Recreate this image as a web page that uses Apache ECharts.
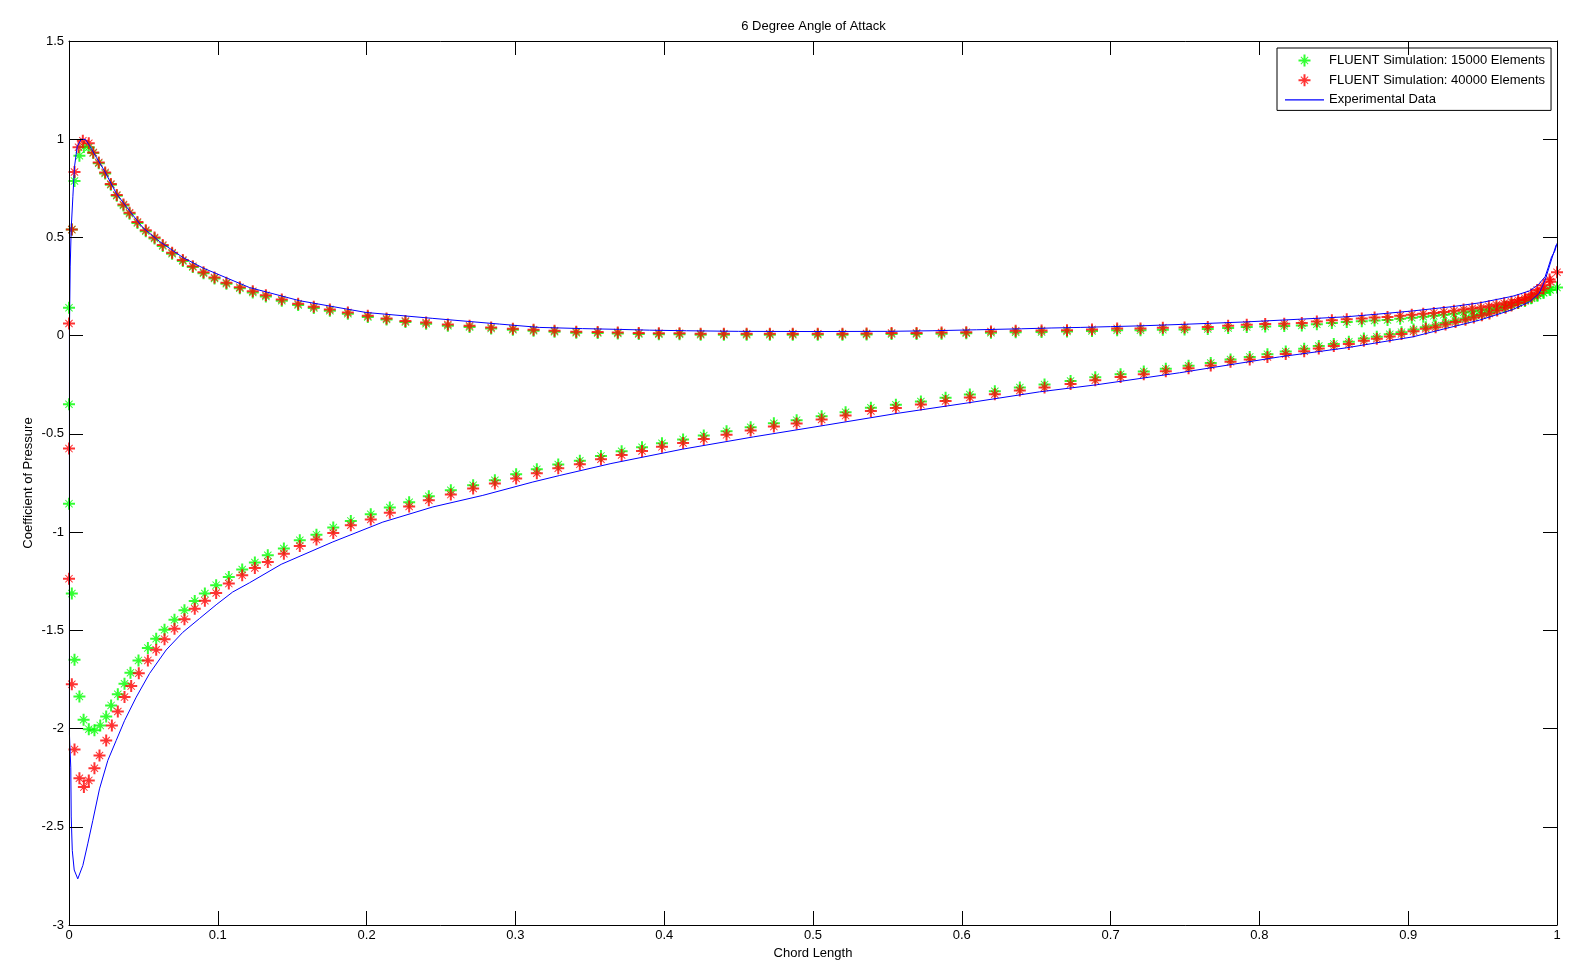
<!DOCTYPE html>
<html>
<head>
<meta charset="utf-8">
<script src="https://cdn.jsdelivr.net/npm/echarts@6/dist/echarts.min.js"></script>
<style>
html,body{margin:0;padding:0;background:#fff;}
#chart{width:1580px;height:971px;}
</style>
</head>
<body>
<div id="chart"></div>
<script>
// ---- Data ----
const titleText = '6 Degree Angle of Attack';
const xName = 'Chord Length';
const yName = 'Coefficient of Pressure';
const seriesNames = ['FLUENT Simulation: 15000 Elements', 'FLUENT Simulation: 40000 Elements', 'Experimental Data'];

// FLUENT 15000 elements, pressure side (positive Cp)
const green15kUpper = [[0.0000,0.142],[0.0019,0.540],[0.0037,0.787],[0.0070,0.916],[0.0100,0.960],[0.0133,0.959],[0.0163,0.930],[0.0200,0.878],[0.0243,0.826],[0.0281,0.768],[0.0321,0.712],[0.0366,0.663],[0.0407,0.621],[0.0460,0.573],[0.0516,0.531],[0.0575,0.495],[0.0630,0.456],[0.0693,0.417],[0.0765,0.380],[0.0832,0.349],[0.0904,0.318],[0.0978,0.291],[0.1058,0.264],[0.1148,0.241],[0.1235,0.220],[0.1323,0.200],[0.1430,0.178],[0.1540,0.156],[0.1645,0.141],[0.1753,0.127],[0.1874,0.112],[0.2008,0.095],[0.2134,0.082],[0.2261,0.069],[0.2400,0.061],[0.2546,0.051],[0.2692,0.044],[0.2837,0.036],[0.2983,0.030],[0.3122,0.025],[0.3263,0.020],[0.3409,0.015],[0.3553,0.014],[0.3688,0.011],[0.3829,0.009],[0.3964,0.007],[0.4103,0.007],[0.4245,0.005],[0.4401,0.005],[0.4554,0.005],[0.4710,0.005],[0.4864,0.005],[0.5032,0.005],[0.5198,0.005],[0.5360,0.006],[0.5528,0.008],[0.5696,0.009],[0.5864,0.010],[0.6030,0.012],[0.6196,0.015],[0.6362,0.018],[0.6536,0.019],[0.6707,0.021],[0.6875,0.024],[0.7044,0.028],[0.7201,0.028],[0.7351,0.030],[0.7497,0.032],[0.7653,0.034],[0.7790,0.039],[0.7915,0.044],[0.8039,0.047],[0.8167,0.049],[0.8285,0.052],[0.8386,0.058],[0.8487,0.064],[0.8587,0.069],[0.8688,0.073],[0.8774,0.077],[0.8861,0.080],[0.8946,0.086],[0.9024,0.091],[0.9101,0.096],[0.9172,0.101],[0.9239,0.106],[0.9307,0.112],[0.9372,0.118],[0.9430,0.123],[0.9488,0.129],[0.9542,0.135],[0.9593,0.142],[0.9645,0.150],[0.9694,0.158],[0.9739,0.166],[0.9784,0.176],[0.9826,0.190],[0.9867,0.205],[0.9909,0.220],[0.9950,0.235],[1.0000,0.245]];
// FLUENT 15000 elements, suction side (negative Cp)
const green15kLower = [[0.0000,-0.349],[0.0000,-0.855],[0.0019,-1.313],[0.0037,-1.650],[0.0070,-1.837],[0.0098,-1.955],[0.0133,-2.003],[0.0171,-2.008],[0.0210,-1.984],[0.0250,-1.938],[0.0283,-1.882],[0.0328,-1.826],[0.0373,-1.772],[0.0413,-1.716],[0.0467,-1.653],[0.0530,-1.590],[0.0586,-1.543],[0.0642,-1.497],[0.0709,-1.446],[0.0776,-1.398],[0.0845,-1.351],[0.0913,-1.313],[0.0989,-1.270],[0.1074,-1.229],[0.1164,-1.190],[0.1249,-1.155],[0.1336,-1.118],[0.1444,-1.084],[0.1551,-1.042],[0.1663,-1.013],[0.1776,-0.977],[0.1894,-0.943],[0.2028,-0.909],[0.2156,-0.875],[0.2286,-0.848],[0.2418,-0.818],[0.2566,-0.787],[0.2716,-0.762],[0.2862,-0.736],[0.3005,-0.706],[0.3144,-0.680],[0.3288,-0.656],[0.3433,-0.637],[0.3575,-0.612],[0.3714,-0.589],[0.3851,-0.568],[0.3985,-0.548],[0.4127,-0.528],[0.4266,-0.508],[0.4419,-0.487],[0.4581,-0.466],[0.4737,-0.446],[0.4890,-0.430],[0.5058,-0.410],[0.5219,-0.390],[0.5389,-0.367],[0.5557,-0.352],[0.5725,-0.335],[0.5891,-0.316],[0.6054,-0.300],[0.6222,-0.283],[0.6390,-0.264],[0.6556,-0.249],[0.6731,-0.231],[0.6897,-0.212],[0.7067,-0.197],[0.7223,-0.183],[0.7371,-0.168],[0.7524,-0.153],[0.7673,-0.139],[0.7806,-0.121],[0.7935,-0.108],[0.8054,-0.095],[0.8177,-0.081],[0.8301,-0.067],[0.8399,-0.053],[0.8500,-0.042],[0.8601,-0.031],[0.8702,-0.015],[0.8789,-0.005],[0.8876,0.007],[0.8955,0.018],[0.9036,0.031],[0.9118,0.043],[0.9184,0.052],[0.9251,0.064],[0.9318,0.076],[0.9385,0.088],[0.9441,0.099],[0.9495,0.109],[0.9546,0.119],[0.9598,0.133],[0.9654,0.146],[0.9694,0.157],[0.9739,0.168],[0.9786,0.180],[0.9830,0.192],[0.9870,0.205],[0.9910,0.218],[0.9955,0.232]];

// FLUENT 40000 elements, pressure side
const red40kUpper = [[0.0000,0.062],[0.0019,0.540],[0.0037,0.833],[0.0064,0.959],[0.0093,0.992],[0.0133,0.979],[0.0163,0.933],[0.0200,0.882],[0.0243,0.831],[0.0281,0.772],[0.0321,0.716],[0.0366,0.668],[0.0407,0.626],[0.0460,0.578],[0.0516,0.536],[0.0575,0.500],[0.0630,0.461],[0.0693,0.422],[0.0765,0.385],[0.0832,0.354],[0.0904,0.323],[0.0978,0.296],[0.1058,0.269],[0.1148,0.247],[0.1235,0.226],[0.1323,0.206],[0.1430,0.184],[0.1540,0.162],[0.1645,0.147],[0.1753,0.133],[0.1874,0.118],[0.2008,0.101],[0.2134,0.088],[0.2261,0.075],[0.2400,0.067],[0.2546,0.057],[0.2692,0.050],[0.2837,0.042],[0.2983,0.035],[0.3122,0.030],[0.3263,0.025],[0.3409,0.020],[0.3553,0.019],[0.3688,0.016],[0.3829,0.014],[0.3964,0.012],[0.4103,0.012],[0.4245,0.010],[0.4401,0.010],[0.4554,0.010],[0.4710,0.010],[0.4864,0.010],[0.5032,0.010],[0.5198,0.010],[0.5360,0.011],[0.5528,0.014],[0.5696,0.014],[0.5864,0.016],[0.6030,0.018],[0.6196,0.021],[0.6362,0.025],[0.6536,0.026],[0.6707,0.028],[0.6875,0.032],[0.7044,0.037],[0.7201,0.037],[0.7351,0.040],[0.7497,0.042],[0.7653,0.044],[0.7790,0.050],[0.7915,0.056],[0.8039,0.059],[0.8167,0.061],[0.8285,0.065],[0.8386,0.072],[0.8487,0.078],[0.8587,0.083],[0.8688,0.088],[0.8774,0.092],[0.8861,0.095],[0.8946,0.101],[0.9024,0.106],[0.9101,0.111],[0.9172,0.116],[0.9239,0.121],[0.9307,0.127],[0.9372,0.133],[0.9430,0.138],[0.9488,0.144],[0.9542,0.150],[0.9593,0.157],[0.9645,0.165],[0.9694,0.173],[0.9739,0.181],[0.9784,0.192],[0.9826,0.210],[0.9867,0.232],[0.9909,0.257],[0.9950,0.286],[1.0000,0.323]];
// FLUENT 40000 elements, suction side
const red40kLower = [[0.0000,-0.575],[0.0000,-1.237],[0.0019,-1.775],[0.0037,-2.107],[0.0070,-2.253],[0.0100,-2.298],[0.0133,-2.264],[0.0171,-2.202],[0.0205,-2.137],[0.0250,-2.061],[0.0288,-1.984],[0.0328,-1.913],[0.0373,-1.840],[0.0418,-1.784],[0.0469,-1.718],[0.0530,-1.653],[0.0586,-1.599],[0.0642,-1.545],[0.0709,-1.492],[0.0776,-1.443],[0.0845,-1.390],[0.0913,-1.349],[0.0989,-1.310],[0.1074,-1.262],[0.1164,-1.220],[0.1249,-1.183],[0.1336,-1.152],[0.1444,-1.110],[0.1551,-1.071],[0.1663,-1.038],[0.1776,-1.005],[0.1894,-0.965],[0.2028,-0.936],[0.2156,-0.901],[0.2286,-0.870],[0.2418,-0.838],[0.2566,-0.809],[0.2716,-0.778],[0.2862,-0.753],[0.3005,-0.727],[0.3144,-0.700],[0.3288,-0.675],[0.3433,-0.655],[0.3575,-0.629],[0.3714,-0.607],[0.3851,-0.587],[0.3985,-0.566],[0.4127,-0.546],[0.4266,-0.526],[0.4419,-0.505],[0.4581,-0.483],[0.4737,-0.463],[0.4890,-0.447],[0.5058,-0.427],[0.5219,-0.407],[0.5389,-0.383],[0.5557,-0.368],[0.5725,-0.351],[0.5891,-0.332],[0.6054,-0.315],[0.6222,-0.298],[0.6390,-0.279],[0.6556,-0.264],[0.6731,-0.246],[0.6897,-0.227],[0.7067,-0.210],[0.7223,-0.196],[0.7371,-0.181],[0.7524,-0.166],[0.7673,-0.152],[0.7806,-0.133],[0.7935,-0.121],[0.8054,-0.108],[0.8177,-0.093],[0.8301,-0.079],[0.8399,-0.065],[0.8500,-0.053],[0.8601,-0.042],[0.8702,-0.026],[0.8789,-0.016],[0.8876,-0.004],[0.8955,0.009],[0.9036,0.023],[0.9118,0.035],[0.9184,0.043],[0.9251,0.057],[0.9318,0.069],[0.9385,0.081],[0.9441,0.093],[0.9495,0.104],[0.9546,0.113],[0.9598,0.128],[0.9654,0.142],[0.9694,0.153],[0.9739,0.167],[0.9786,0.182],[0.9830,0.198],[0.9870,0.216],[0.9910,0.240],[0.9955,0.275]];

// Experimental data: pressure side from trailing edge to leading edge
const expUpper = [[1.0000,0.470],[0.9985,0.430],[0.9963,0.400],[0.9940,0.345],[0.9920,0.300],[0.9875,0.260],[0.9815,0.228],[0.9750,0.212],[0.9703,0.201],[0.9600,0.185],[0.9479,0.167],[0.9300,0.148],[0.9031,0.126],[0.8800,0.110],[0.8583,0.096],[0.8300,0.085],[0.7910,0.070],[0.7500,0.058],[0.7200,0.050],[0.7000,0.046],[0.6800,0.042],[0.6600,0.039],[0.6400,0.035],[0.6100,0.030],[0.5800,0.025],[0.5500,0.022],[0.5000,0.021],[0.4500,0.022],[0.4150,0.025],[0.3900,0.028],[0.3700,0.032],[0.3450,0.036],[0.3260,0.040],[0.3160,0.042],[0.2893,0.059],[0.2445,0.088],[0.1997,0.118],[0.1549,0.178],[0.1213,0.245],[0.1056,0.295],[0.0899,0.345],[0.0765,0.398],[0.0608,0.480],[0.0496,0.550],[0.0407,0.635],[0.0317,0.725],[0.0239,0.838],[0.0183,0.908],[0.0138,0.968],[0.0111,0.998],[0.0082,1.000],[0.0055,0.962],[0.0037,0.860],[0.0026,0.707],[0.0015,0.546],[0.0008,0.350],[0.0003,0.030]];
// Experimental data: suction side from leading edge to trailing edge
const expLower = [[0.0003,-2.030],[0.0012,-2.200],[0.0015,-2.450],[0.0022,-2.620],[0.0035,-2.720],[0.0059,-2.765],[0.0093,-2.697],[0.0126,-2.587],[0.0160,-2.468],[0.0205,-2.307],[0.0261,-2.162],[0.0317,-2.061],[0.0373,-1.960],[0.0452,-1.840],[0.0541,-1.720],[0.0653,-1.600],[0.0765,-1.510],[0.0877,-1.440],[0.0989,-1.370],[0.1100,-1.305],[0.1213,-1.258],[0.1426,-1.164],[0.1773,-1.050],[0.2109,-0.949],[0.2445,-0.872],[0.2781,-0.813],[0.3117,-0.745],[0.3296,-0.712],[0.3642,-0.651],[0.4122,-0.578],[0.4602,-0.515],[0.5082,-0.456],[0.5562,-0.396],[0.6042,-0.342],[0.6522,-0.286],[0.6906,-0.250],[0.7463,-0.189],[0.8135,-0.108],[0.8583,-0.062],[0.9031,-0.006],[0.9255,0.037],[0.9479,0.079],[0.9703,0.133],[0.9815,0.172],[0.9880,0.215],[0.9920,0.283],[0.9960,0.380],[0.9994,0.461]];

const xMin = 0, xMax = 1, xStep = 0.1;
const yMin = -3, yMax = 1.5, yStep = 0.5;

// ---- Chart ----
const FONT = 'Liberation Sans, Arial, sans-serif';
// MATLAB-like '*' marker: plus, diagonals and a solid centre
const asterisk = 'path://M0 5L12 5L12 7L0 7Z M5 0L7 0L7 12L5 12Z M4 4L8 4L8 8L4 8Z M2.7 2L10 9.3L9.3 10L2 2.7Z M9.3 2L10 2.7L2.7 10L2 9.3Z';
const lineIcon = 'path://M0 0L39 0L39 1.2L0 1.2Z';

function boxAxis(pos, isMain, min, max, step, extra) {
  const a = {
    type: 'value', position: pos, min: min, max: max, interval: step, z: 5,
    axisLine: { show: true, onZero: false, lineStyle: { color: '#000', width: 1 } },
    axisTick: { show: true, inside: true, length: 14, lineStyle: { color: '#000', width: 1 } },
    axisLabel: { show: isMain, color: '#000', fontSize: 13, fontFamily: FONT },
    splitLine: { show: false }
  };
  return Object.assign(a, extra || {});
}

const chart = echarts.init(document.getElementById('chart'), null, { renderer: 'canvas' });
chart.setOption({
  animation: false,
  backgroundColor: '#fff',
  title: {
    text: titleText, left: 813.5, top: 20, padding: 0, textAlign: 'center',
    textStyle: { fontSize: 13, fontWeight: 'normal', color: '#000', fontFamily: FONT }
  },
  grid: { left: 69, top: 41, width: 1488, height: 884, containLabel: false },
  legend: {
    orient: 'vertical', left: 1277, top: 48, padding: [6, 6, 4, 8],
    borderColor: '#000', borderWidth: 1, backgroundColor: '#fff',
    itemWidth: 39, itemHeight: 12, itemGap: 6.7,
    textStyle: { fontSize: 13, color: '#000', fontFamily: FONT },
    data: [
      { name: seriesNames[0], icon: asterisk },
      { name: seriesNames[1], icon: asterisk },
      { name: seriesNames[2], icon: lineIcon, itemStyle: { color: '#0000ff' } }
    ]
  },
  xAxis: [
    boxAxis('bottom', true, xMin, xMax, xStep, {
      name: xName, nameLocation: 'middle', nameGap: 22, nameMoveOverlap: false,
      nameTextStyle: { fontSize: 13, color: '#000', fontFamily: FONT },
      axisLabel: { show: true, color: '#000', fontSize: 13, fontFamily: FONT, margin: 4 }
    }),
    boxAxis('top', false, xMin, xMax, xStep)
  ],
  yAxis: [
    boxAxis('left', true, yMin, yMax, yStep, {
      name: yName, nameLocation: 'middle', nameGap: 34, nameMoveOverlap: false,
      nameTextStyle: { fontSize: 13, color: '#000', fontFamily: FONT },
      axisLabel: { show: true, color: '#000', fontSize: 13, fontFamily: FONT, margin: 5 }
    }),
    boxAxis('right', false, yMin, yMax, yStep)
  ],
  series: [
    {
      name: seriesNames[0], type: 'scatter', xAxisIndex: 0, yAxisIndex: 0,
      symbol: asterisk, symbolSize: 12,
      itemStyle: { color: '#00ff00' },
      data: green15kUpper.concat(green15kLower), z: 2
    },
    {
      name: seriesNames[1], type: 'scatter', xAxisIndex: 0, yAxisIndex: 0,
      symbol: asterisk, symbolSize: 12,
      itemStyle: { color: '#ff0000' },
      data: red40kUpper.concat(red40kLower), z: 3
    },
    {
      name: seriesNames[2], type: 'line', xAxisIndex: 0, yAxisIndex: 0,
      symbol: 'none', showSymbol: false, smooth: false,
      lineStyle: { color: '#0000ff', width: 1 },
      itemStyle: { color: '#0000ff' },
      data: expUpper.concat(expLower), z: 4
    }
  ]
});
</script>
</body>
</html>
